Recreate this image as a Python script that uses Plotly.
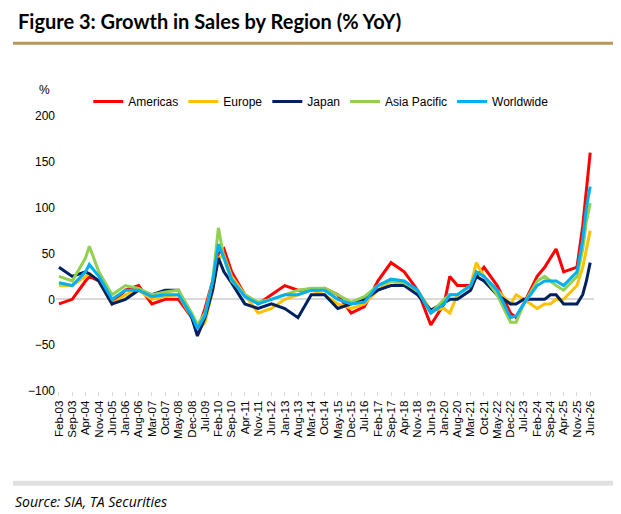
import plotly.graph_objects as go
import pandas as pd

months = [0,7,14,16,21,28,35,42,49,56,63,70,73,77,81,84,87,91,98,105,112,119,126,133,140,147,154,161,168,175,182,189,196,203,206,210,217,220,224,231,238,241,245,252,256,259,262,266,273,276,278,280]
americas = [-5,0,20,25,20,-5,10,15,-5,0,0,-20,-35,-10,20,50,55,30,5,-5,5,15,10,10,12,5,-15,-8,20,40,30,10,-28,-5,25,15,15,25,35,15,-15,-20,-5,25,35,45,55,30,35,80,120,160]
europe = [15,15,25,28,20,-5,5,10,0,3,5,-20,-35,-25,10,45,48,25,5,-15,-10,0,5,10,5,-5,-10,-5,10,20,15,10,-12,-10,-15,5,15,40,25,10,-5,5,0,-10,-5,-5,0,0,15,35,55,75]
japan = [35,25,30,28,20,-5,0,10,5,10,10,-20,-40,-20,10,45,30,18,-5,-10,-5,-10,-20,5,5,-10,-5,0,10,15,15,5,-12,-3,0,0,10,25,20,5,-5,-5,0,0,0,5,5,-5,-5,5,20,40]
asia = [25,20,45,58,30,5,15,12,5,8,10,-15,-28,-15,20,78,45,20,5,-3,0,5,10,12,12,5,-3,3,15,20,18,10,-15,0,5,5,15,30,25,5,-25,-25,-5,20,25,20,15,10,25,55,85,105]
world = [18,15,30,38,25,0,10,10,3,5,5,-18,-32,-18,20,60,45,22,3,-5,0,5,5,10,10,0,-5,-3,15,22,20,10,-15,-5,5,5,15,30,25,10,-20,-18,-5,15,20,20,20,15,30,65,100,123]

dates = [pd.Timestamp('2003-02-01') + pd.DateOffset(months=m) for m in months]
tickvals = [pd.Timestamp('2003-02-01') + pd.DateOffset(months=7*i) for i in range(41)]
ticktext = [d.strftime('%b-%y') for d in tickvals]

series = [("Americas", americas, "#FF0000"), ("Europe", europe, "#FFC000"),
          ("Japan", japan, "#002060"), ("Asia Pacific", asia, "#92D050"),
          ("Worldwide", world, "#00B0F0")]

fig = go.Figure()
for name, vals, col in series:
    fig.add_trace(go.Scatter(x=dates, y=vals, name=name, mode="lines",
                             line=dict(color=col, width=3)))

fig.update_layout(
    width=621, height=514, paper_bgcolor="white", plot_bgcolor="white",
    margin=dict(l=48, r=35, t=108, b=131, autoexpand=False),
    font=dict(family="Liberation Sans, Arial", size=12, color="black"),
    legend=dict(orientation="h", x=0.06, y=1.0, xanchor="left", yanchor="bottom",
                font=dict(size=12), itemwidth=30, traceorder="normal"),
    xaxis=dict(tickvals=tickvals, ticktext=ticktext, tickangle=-90,
               range=[pd.Timestamp('2002-12-15'), pd.Timestamp('2026-08-01')],
               showgrid=False, ticks="outside", ticklen=4, tickcolor="#d9d9d9",
               showline=False, tickfont=dict(size=11.5)),
    yaxis=dict(range=[-100, 200], dtick=50, showgrid=False, zeroline=True,
               zerolinecolor="#d9d9d9", zerolinewidth=1.5, tickfont=dict(size=12)),
    shapes=[
        dict(type="line", xref="paper", yref="paper", x0=-0.08, x1=1.06,
             y0=1.265, y1=1.265, line=dict(color="#B8975A", width=3)),
        dict(type="line", xref="paper", yref="paper", x0=-0.08, x1=1.06,
             y0=-0.335, y1=-0.335, line=dict(color="#E0E0E0", width=5)),
    ],
    annotations=[
        dict(text="<b>Figure 3: Growth in Sales by Region (% YoY)</b>", xref="paper", yref="paper",
             x=-0.075, y=1.395, xanchor="left", yanchor="top", showarrow=False,
             font=dict(size=20, family="Lato, Liberation Sans")),
        dict(text="%", xref="paper", yref="paper", x=-0.035, y=1.06, xanchor="left",
             yanchor="bottom", showarrow=False, font=dict(size=12)),
        dict(text="<i>Source: SIA, TA Securities</i>", xref="paper", yref="paper",
             x=-0.08, y=-0.36, xanchor="left", yanchor="top", showarrow=False,
             font=dict(size=14, family="Open Sans, Liberation Sans")),
    ],
)
fig.write_html("out.html")
